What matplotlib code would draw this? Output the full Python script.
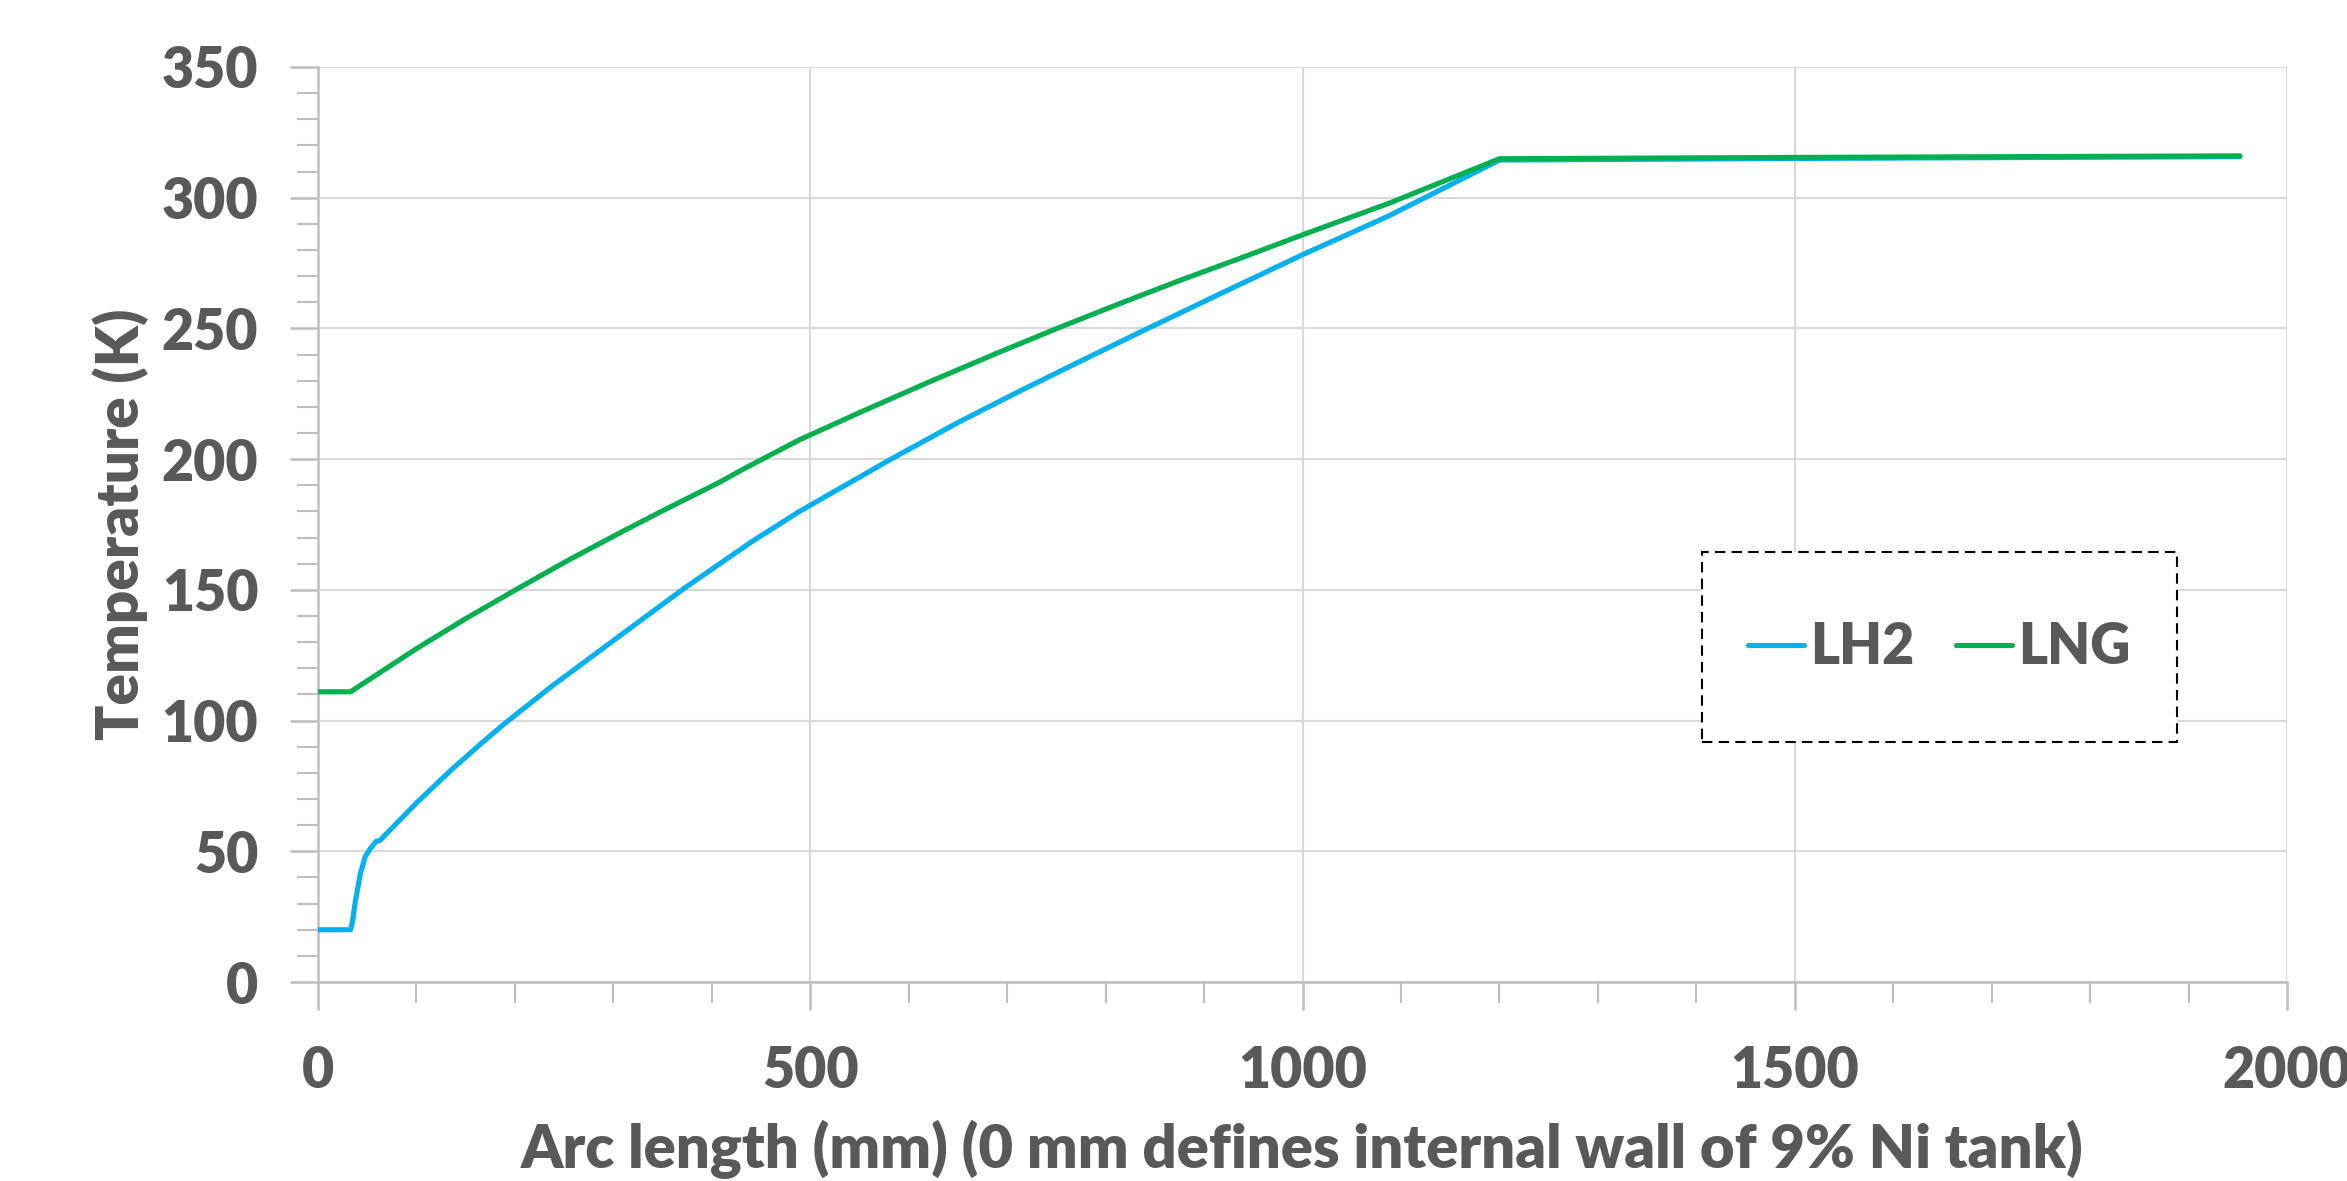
import matplotlib
matplotlib.use("Agg")
import matplotlib.pyplot as plt
from matplotlib.ticker import MultipleLocator
from matplotlib.patches import Rectangle

# ---- data ----
lh2_x = [0, 33, 35, 38, 43, 48, 53, 59, 63, 100, 135, 165, 190, 237, 305, 372, 440,
         489, 582, 650, 710, 780, 839, 920, 1000, 1045, 1089, 1200, 1500, 1952]
lh2_y = [20, 20, 23, 31, 41.5, 48, 51, 53.8, 54.2, 68.5, 81, 91, 99, 113, 132, 150.6, 168.3,
         180, 200, 214, 225.5, 238.5, 249.3, 263.9, 278.2, 285.8, 293.3, 314.4, 315.0, 315.7]

lng_x = [0, 33, 100, 150, 203, 255, 305, 355, 406, 435, 489, 550, 620, 690, 750, 815,
         875, 940, 1000, 1088, 1200, 1500, 1952]
lng_y = [111, 111, 127.5, 139, 150.5, 161.5, 171.5, 181.2, 190.8, 196.8, 207.4, 217.8, 229.4,
         240.6, 249.9, 259.6, 268.3, 277.3, 285.8, 297.9, 314.9, 315.4, 316]

series_names = ["LH2", "LNG"]
x_label = "Arc length (mm) (0 mm defines internal wall of 9% Ni tank)"
y_label = "Temperature (K)"

# ---- style ----
TXT = "#595959"
GRID = "#D9D9D9"
AXC = "#BFBFBF"
C_LH2 = "#00B0F0"
C_LNG = "#00B050"
W = 'heavy'
plt.rcParams['font.family'] = ['Lato', 'DejaVu Sans']

fig = plt.figure(figsize=(23.47, 11.81), dpi=100)
ax = fig.add_axes([0.1355, 0.1685, 0.9745 - 0.1355, 0.9433 - 0.1685])

ax.plot(lh2_x, lh2_y, color=C_LH2, lw=3.7, solid_capstyle='round',
        solid_joinstyle='round', label=series_names[0], zorder=3)
ax.plot(lng_x, lng_y, color=C_LNG, lw=3.7, solid_capstyle='round',
        solid_joinstyle='round', label=series_names[1], zorder=4)

ax.set_xlim(0, 2000)
ax.set_ylim(0, 350)
ax.xaxis.set_major_locator(MultipleLocator(500))
ax.xaxis.set_minor_locator(MultipleLocator(100))
ax.yaxis.set_major_locator(MultipleLocator(50))
ax.yaxis.set_minor_locator(MultipleLocator(10))

ax.grid(True, which='major', color=GRID, lw=1.5, zorder=0)
ax.set_axisbelow(True)
for s in ['top', 'right']:
    ax.spines[s].set_visible(False)
for s in ['left', 'bottom']:
    ax.spines[s].set_color(AXC)
    ax.spines[s].set_linewidth(1.8)

ax.tick_params(which='major', length=20, width=1.8, color=AXC, labelsize=40,
               labelcolor=TXT, direction='out')
ax.tick_params(which='minor', length=15, width=1.5, color=AXC, direction='out')
ax.tick_params(axis='x', which='major', pad=25)
ax.tick_params(axis='y', which='major', pad=23)
for lab in ax.get_xticklabels() + ax.get_yticklabels():
    lab.set_fontweight(W)

ax.set_xlabel(x_label, fontsize=43, color=TXT, fontweight=W, labelpad=17)
ax.set_ylabel(y_label, fontsize=42, color=TXT, fontweight=W, labelpad=9)

# dashed legend box
box = Rectangle((0.703, 0.262), 0.944 - 0.703, 0.470 - 0.262, transform=ax.transAxes,
                fill=True, facecolor='white', edgecolor='black', lw=1.5,
                linestyle=(0, (5, 3)), zorder=5)
ax.add_patch(box)
leg = ax.legend(loc='center', bbox_to_anchor=(0.8235, 0.366), ncol=2,
                fontsize=40, frameon=False, borderpad=0.2,
                handlelength=1.0, handletextpad=0.12, columnspacing=0.75)
leg.set_zorder(6)
for t in leg.get_texts():
    t.set_color(TXT)
    t.set_fontweight(W)

fig.savefig("out.png", dpi=100, facecolor='white')
